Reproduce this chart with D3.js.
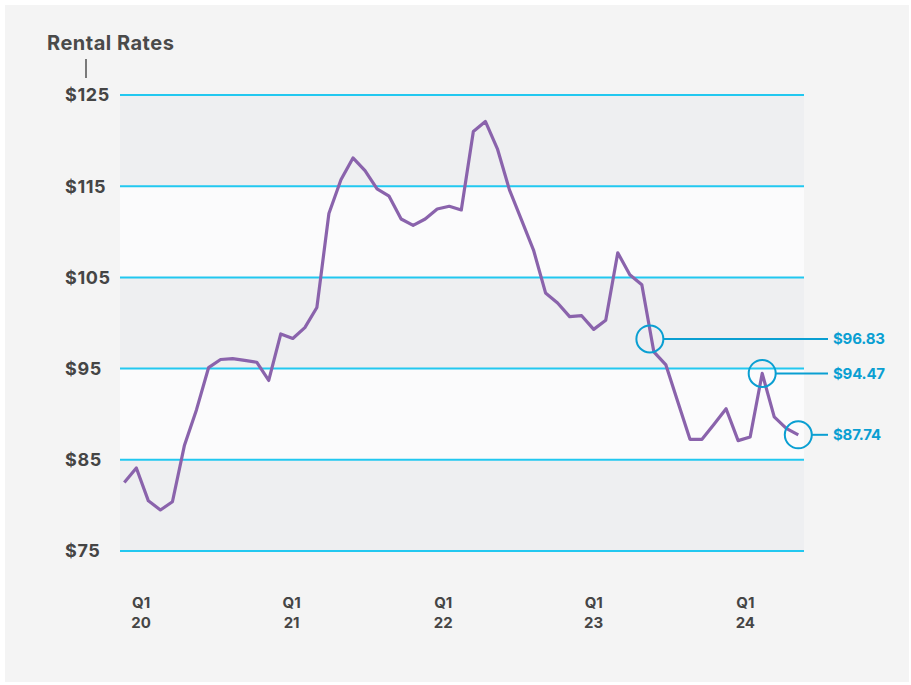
<!DOCTYPE html>
<html>
<head>
<meta charset="utf-8">
<script src="https://cdn.jsdelivr.net/npm/d3@7"></script>
<style>
  html, body { margin: 0; padding: 0; background: #ffffff; }
  svg { display: block; }
  text { font-family: "Inter", "Lato", "DejaVu Sans", sans-serif; }
</style>
</head>
<body>
<svg id="chart" width="911" height="685"></svg>
<script>
// ---- Data ----
const rentalRates = [
  82.5, 84.1, 80.5, 79.5, 80.4, 86.6, 90.5, 95.1, 96.0, 96.1,
  95.9, 95.7, 93.7, 98.8, 98.3, 99.5, 101.7, 112.0, 115.7, 118.1,
  116.7, 114.7, 113.9, 111.4, 110.7, 111.4, 112.5, 112.8, 112.4, 121.0,
  122.1, 119.1, 114.6, 111.3, 108.0, 103.3, 102.2, 100.7, 100.8, 99.3,
  100.3, 107.7, 105.3, 104.2, 96.83, 95.4, 91.3, 87.25, 87.25, 88.9,
  90.6, 87.1, 87.5, 94.47, 89.7, 88.45, 87.74
];
const yTicks = [75, 85, 95, 105, 115, 125];
const yTickLabels = ["$75", "$85", "$95", "$105", "$115", "$125"];
// x-axis labels, positioned in data-index units
const xTickPos = [1.4, 13.9, 26.5, 39.0, 51.6];
const xTickTop = ["Q1", "Q1", "Q1", "Q1", "Q1"];
const xTickBottom = ["20", "21", "22", "23", "24"];
const calloutIdx = [44, 53, 56];
const calloutLabels = ["$96.83", "$94.47", "$87.74"];
const title = "Rental Rates";

// ---- Layout ----
const plot = { left: 120, right: 804, top: 95, bottom: 551 };
const svg = d3.select("#chart");

svg.append("rect").attr("x", 5).attr("y", 5).attr("width", 904).attr("height", 677)
  .attr("fill", "#f4f4f4");

const x = d3.scaleLinear().domain([0, rentalRates.length - 1]).range([124.3, 798.3]);
const y = d3.scaleLinear().domain([75, 125]).range([plot.bottom, plot.top]);

// bands
const bands = d3.pairs(yTicks);
svg.append("g").selectAll("rect").data(bands).join("rect")
  .attr("x", plot.left)
  .attr("width", plot.right - plot.left)
  .attr("y", d => y(d[1]))
  .attr("height", d => y(d[0]) - y(d[1]))
  .attr("fill", (d, i) => (i % 2 === 0) ? "#eeeff1" : "#fbfbfc");

// grid lines
svg.append("g").selectAll("line").data(yTicks).join("line")
  .attr("x1", plot.left).attr("x2", plot.right)
  .attr("y1", d => y(d)).attr("y2", d => y(d))
  .attr("stroke", "#22c8f0").attr("stroke-width", 2);

// y labels
svg.append("g").selectAll("text").data(yTicks).join("text")
  .attr("x", 65).attr("y", d => y(d))
  .attr("dy", "0.36em")
  .attr("text-anchor", "start")
  .attr("font-size", 18).attr("font-weight", 700)
  .attr("letter-spacing", 0.6)
  .attr("fill", "#454545")
  .text((d, i) => yTickLabels[i]);

// title
svg.append("text").attr("x", 47).attr("y", 43).attr("dy", "0.36em")
  .attr("font-size", 20).attr("font-weight", 700).attr("fill", "#4a4a4a")
  .attr("letter-spacing", 0.5)
  .text(title);
svg.append("line").attr("x1", 86).attr("x2", 86).attr("y1", 59).attr("y2", 78)
  .attr("stroke", "#7a7a7a").attr("stroke-width", 2);

// x labels
const xl = svg.append("g").selectAll("g").data(xTickPos).join("g");
xl.append("text").attr("x", d => x(d)).attr("y", 603).attr("dy", "0.36em")
  .attr("text-anchor", "middle").attr("font-size", 15).attr("font-weight", 700)
  .attr("fill", "#454545").text((d, i) => xTickTop[i]);
xl.append("text").attr("x", d => x(d)).attr("y", 623).attr("dy", "0.36em")
  .attr("text-anchor", "middle").attr("font-size", 15).attr("font-weight", 700)
  .attr("fill", "#454545").text((d, i) => xTickBottom[i]);

// line
const line = d3.line().x((d, i) => x(i)).y(d => y(d));
svg.append("path").datum(rentalRates)
  .attr("d", line)
  .attr("fill", "none")
  .attr("stroke", "#8a63ac")
  .attr("stroke-width", 3.2)
  .attr("stroke-linejoin", "round");

// callouts
const offsets = [[-4, -13], [0, 0], [0, 0]];
const co = svg.append("g").selectAll("g").data(calloutIdx).join("g");
const cx = (d, i) => x(d) + offsets[i][0];
const cy = (d, i) => y(rentalRates[d]) + offsets[i][1];
co.append("circle").attr("cx", cx).attr("cy", cy).attr("r", 13.5)
  .attr("fill", "none").attr("stroke", "#0a9fd2").attr("stroke-width", 2);
co.append("line")
  .attr("x1", (d, i) => cx(d, i) + 13.5).attr("x2", 828)
  .attr("y1", cy).attr("y2", cy)
  .attr("stroke", "#0a9fd2").attr("stroke-width", 2);
co.append("text").attr("x", 833).attr("y", cy).attr("dy", "0.36em")
  .attr("font-size", 15).attr("font-weight", 700).attr("fill", "#0a9fd2")
  .attr("letter-spacing", -0.2)
  .text((d, i) => calloutLabels[i]);
</script>
</body>
</html>
